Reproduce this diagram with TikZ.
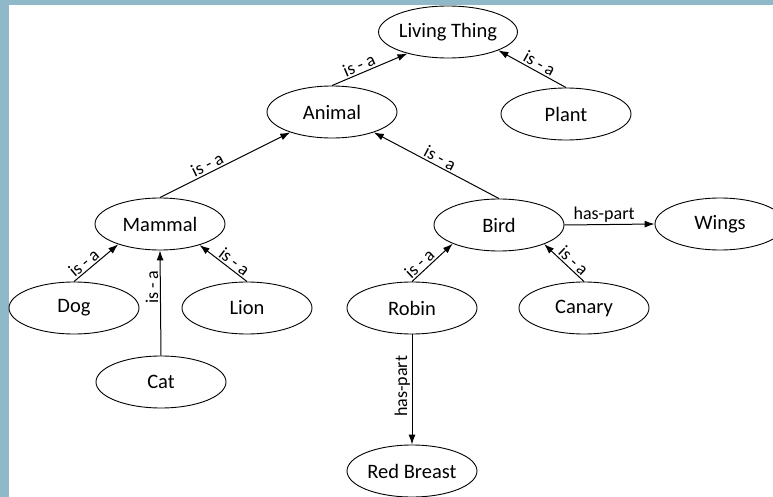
\documentclass[tikz,border=0pt]{standalone}
\usepackage{fontspec}
\setmainfont{Carlito}
\usetikzlibrary{shapes.geometric,arrows.meta}
\definecolor{framecol}{RGB}{143,184,201}
\newcommand{\isa}{is\hspace{4pt}-\hspace{4pt}a}
\begin{document}
\begin{tikzpicture}[x=1pt,y=-1pt,
  concept/.style={ellipse,draw,line width=0.9pt,minimum width=130pt,minimum height=52pt,inner sep=0pt,font=\fontsize{20.5}{20.5}\selectfont},
  rel/.style={-{Latex[length=10pt,width=7pt]},line width=1pt},
  lbl/.style={font=\fontsize{18}{18}\selectfont,inner sep=1.5pt}]
\useasboundingbox (0,0) rectangle (773,497);
\fill[framecol] (0,0) rectangle (773,5);
\fill[framecol] (0,0) rectangle (9,497);
\node[concept] (living) at (448,32) {Living Thing};
\node[concept] (plant) at (566,114) {Plant};
\node[concept] (animal) at (332,112) {Animal};
\node[concept] (mammal) at (160,224) {Mammal};
\node[concept] (bird) at (499,225) {Bird};
\node[concept] (wings) at (720,224) {Wings};
\node[concept] (dog) at (74,308) {Dog};
\node[concept] (lion) at (247,308) {Lion};
\node[concept] (cat) at (161,382) {Cat};
\node[concept] (robin) at (412,308) {Robin};
\node[concept] (canary) at (584,308) {Canary};
\node[concept] (breast) at (412,471) {Red Breast};

\draw[rel] (animal.north) -- node[lbl,sloped,above,pos=0.4] {\isa} (living.208.5);
\draw[rel] (plant.north) -- node[lbl,sloped,above,pos=0.45] {\isa} (living.340);
\draw[rel] (mammal.north) -- node[lbl,sloped,above,pos=0.39] {\isa} (animal.206);
\draw[rel] (bird.north) -- node[lbl,sloped,above,pos=0.5] {\isa} (animal.334);
\draw[rel] (dog.north) -- node[lbl,sloped,above,pos=0.34] {\isa} (mammal.206);
\draw[rel] (lion.north) -- node[lbl,sloped,above,pos=0.37] {\isa} (mammal.332);
\draw[rel] (cat.north) -- node[lbl,rotate=90,above,pos=0.65] {\isa} (mammal.south);
\draw[rel] (robin.north) -- node[lbl,sloped,above,pos=0.32] {\isa} (bird.202);
\draw[rel] (canary.north) -- node[lbl,sloped,above,pos=0.4] {\isa} (bird.337);
\draw[rel] (bird.east) -- node[lbl,above,pos=0.44] {has-part} (wings.west);
\draw[rel] (robin.south) -- node[lbl,rotate=90,above,pos=0.47] {has-part} (breast.north);
\end{tikzpicture}
\end{document}
